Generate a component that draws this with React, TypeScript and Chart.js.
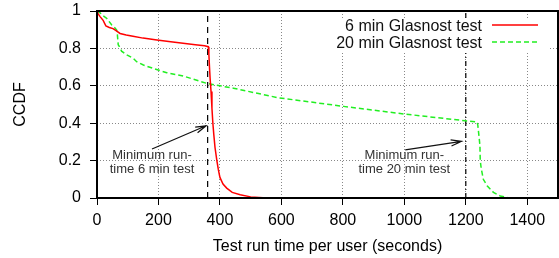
import React, { useEffect, useRef } from 'react';
import { Chart, registerables } from 'chart.js';

Chart.register(...registerables);

// 6 min Glasnost test (red)
const sixMinX = [0, 4, 10, 20, 26, 29, 40, 52, 62, 75, 95, 117, 150, 195, 240, 280, 320, 350, 362, 364, 366, 368, 371, 374, 377, 380, 384, 390, 395, 400, 410, 422, 440, 466, 500, 540, 600];
const sixMinY = [1, 0.985, 0.97, 0.95, 0.93, 0.92, 0.912, 0.906, 0.895, 0.88, 0.872, 0.865, 0.855, 0.845, 0.835, 0.827, 0.82, 0.814, 0.809, 0.77, 0.7, 0.64, 0.57, 0.48, 0.4, 0.34, 0.27, 0.2, 0.15, 0.11, 0.075, 0.053, 0.03, 0.017, 0.006, 0.001, 0];

// 20 min Glasnost test (green)
const twentyMinX = [0, 10, 20, 32, 48, 58, 64, 66, 69, 75, 80, 97, 118, 129, 151, 183, 205, 227, 281, 357, 444, 590, 802, 1001, 1198, 1237, 1239, 1241, 1243, 1246, 1247, 1250, 1257, 1270, 1290, 1312, 1335, 1355];
const twentyMinY = [1, 0.99, 0.975, 0.96, 0.925, 0.91, 0.898, 0.88, 0.82, 0.803, 0.785, 0.765, 0.747, 0.729, 0.711, 0.693, 0.681, 0.67, 0.652, 0.613, 0.587, 0.536, 0.49, 0.449, 0.413, 0.406, 0.39, 0.36, 0.33, 0.28, 0.2, 0.16, 0.1, 0.064, 0.03, 0.011, 0.003, 0];

const seriesLabels = ['6 min Glasnost test', '20 min Glasnost test'];
const seriesColors = ['#ff0000', '#22ee22'];

const minRunTimes = [360, 1200];

const xTicks = [0, 200, 400, 600, 800, 1000, 1200, 1400];
const yTicks = [0, 0.2, 0.4, 0.6, 0.8, 1];

// annotation arrows: [tailX, tailY, tipX, tipY] in data units, text centre in data units
const noteArrows = [
  [179, 0.262, 355, 0.386],
  [1003, 0.257, 1186, 0.303],
];
const noteTextAnchors = [
  [179, 0.23, 0.155],
  [1000, 0.229, 0.155],
];
const noteLines = [
  ['Minimum run-', 'time 6 min test'],
  ['Minimum run-', 'time 20 min test'],
];

const FONT = '"Liberation Sans", Arial, Helvetica, sans-serif';

const toPoints = (xs: number[], ys: number[]) => xs.map((x, i) => ({ x, y: ys[i] }));

const overlay = {
  id: 'overlay',
  afterDatasetsDraw(chart: any) {
    const { ctx, chartArea, scales } = chart;
    const { left, top, right, bottom } = chartArea;
    const xs = scales.x;
    const ys = scales.y;
    ctx.save();

    // legend background
    ctx.fillStyle = '#ffffff';
    ctx.fillRect(right - 276, top + 7, 268, 35);

    // legend entries
    ctx.font = `16px ${FONT}`;
    ctx.textAlign = 'right';
    ctx.textBaseline = 'middle';
    ctx.fillStyle = '#111';
    const rowY = [top + 15.5, top + 32.5];
    seriesLabels.forEach((lab, i) => {
      ctx.fillText(lab, right - 76, rowY[i]);
      ctx.beginPath();
      ctx.strokeStyle = seriesColors[i];
      ctx.lineWidth = 1.5;
      ctx.setLineDash(i === 0 ? [] : [5, 3]);
      ctx.moveTo(right - 66, rowY[i] - 1.5);
      ctx.lineTo(right - 20, rowY[i] - 1.5);
      ctx.stroke();
    });
    ctx.setLineDash([]);

    // annotation arrows
    ctx.strokeStyle = '#111';
    ctx.lineWidth = 1.2;
    noteArrows.forEach(([tx, ty, hx, hy]) => {
      const x1 = xs.getPixelForValue(tx);
      const y1 = ys.getPixelForValue(ty);
      const x2 = xs.getPixelForValue(hx);
      const y2 = ys.getPixelForValue(hy);
      const ang = Math.atan2(y2 - y1, x2 - x1);
      const len = 11;
      const spread = 0.28;
      ctx.beginPath();
      ctx.moveTo(x1, y1);
      ctx.lineTo(x2, y2);
      ctx.moveTo(x2 - len * Math.cos(ang - spread), y2 - len * Math.sin(ang - spread));
      ctx.lineTo(x2, y2);
      ctx.lineTo(x2 - len * Math.cos(ang + spread), y2 - len * Math.sin(ang + spread));
      ctx.stroke();
    });

    // annotation text
    ctx.font = `13px ${FONT}`;
    ctx.textAlign = 'center';
    ctx.textBaseline = 'middle';
    ctx.fillStyle = '#333';
    noteTextAnchors.forEach(([cx, y1, y2], i) => {
      const px = xs.getPixelForValue(cx);
      ctx.fillText(noteLines[i][0], px, ys.getPixelForValue(y1));
      ctx.fillText(noteLines[i][1], px, ys.getPixelForValue(y2));
    });

    // plot frame
    ctx.strokeStyle = '#000';
    ctx.lineWidth = 2;
    ctx.strokeRect(left, top, right - left, bottom - top);
    ctx.restore();
  },
};

export default function App() {
  const ref = useRef<HTMLCanvasElement | null>(null);

  useEffect(() => {
    if (!ref.current) return;
    const chart = new Chart(ref.current, {
      type: 'line',
      data: {
        datasets: [
          {
            label: seriesLabels[0],
            data: toPoints(sixMinX, sixMinY),
            borderColor: seriesColors[0],
            borderWidth: 1.5,
            pointRadius: 0,
            tension: 0,
          },
          {
            label: seriesLabels[1],
            data: toPoints(twentyMinX, twentyMinY),
            borderColor: seriesColors[1],
            borderWidth: 1.5,
            borderDash: [5, 3],
            pointRadius: 0,
            tension: 0,
          },
          {
            label: 'min6',
            data: [{ x: minRunTimes[0], y: 0 }, { x: minRunTimes[0], y: 1 }],
            borderColor: '#000',
            borderWidth: 1.2,
            borderDash: [6, 5],
            pointRadius: 0,
          },
          {
            label: 'min20',
            data: [{ x: minRunTimes[1], y: 0 }, { x: minRunTimes[1], y: 1 }],
            borderColor: '#000',
            borderWidth: 1.2,
            borderDash: [5, 3, 1, 3],
            pointRadius: 0,
          },
        ],
      },
      options: {
        animation: false,
        responsive: false,
        maintainAspectRatio: false,
        layout: { padding: { top: 11, right: 1, left: 0, bottom: 0 } },
        plugins: { legend: { display: false }, tooltip: { enabled: false } },
        scales: {
          x: {
            type: 'linear',
            min: 0,
            max: 1500,
            afterBuildTicks: (s: any) => {
              s.ticks = xTicks.map((v) => ({ value: v }));
            },
            afterFit: (s: any) => {
              s.height = 60;
              s.paddingLeft = 0;
              s.paddingRight = 0;
            },
            ticks: {
              color: '#000',
              font: { family: FONT, size: 16 },
              padding: 6,
              maxRotation: 0,
              autoSkip: false,
              callback: (v: any) => String(v),
            },
            grid: {
              color: '#888',
              lineWidth: 1,
              tickLength: 7,
              tickColor: '#000',
              tickWidth: 1,
              tickBorderDash: [100, 0],
            },
            border: { display: false, dash: [1, 2] },
            title: {
              display: true,
              text: 'Test run time per user (seconds)',
              color: '#000',
              font: { family: FONT, size: 16 },
              padding: { top: 0, bottom: 2 },
            },
          },
          y: {
            type: 'linear',
            min: 0,
            max: 1,
            afterBuildTicks: (s: any) => {
              s.ticks = yTicks.map((v) => ({ value: v }));
            },
            afterFit: (s: any) => {
              s.width = 97;
              s.paddingTop = 0;
              s.paddingBottom = 0;
            },
            ticks: {
              color: '#000',
              font: { family: FONT, size: 16 },
              padding: 9,
              callback: (v: any) => String(Math.round(Number(v) * 10) / 10),
            },
            grid: {
              color: '#888',
              lineWidth: 1,
              tickLength: 7,
              tickColor: '#000',
              tickWidth: 1,
              tickBorderDash: [100, 0],
            },
            border: { display: false, dash: [1, 2] },
            title: {
              display: true,
              text: 'CCDF',
              color: '#000',
              font: { family: FONT, size: 16 },
              padding: { top: 11, bottom: 0 },
            },
          },
        },
      },
      plugins: [overlay],
    });
    return () => chart.destroy();
  }, []);

  return (
    <div style={{ position: 'fixed', left: 0, top: 0, width: 559, height: 258, background: '#fff' }}>
      <canvas ref={ref} width={559} height={258} style={{ width: 559, height: 258, display: 'block' }} />
    </div>
  );
}
